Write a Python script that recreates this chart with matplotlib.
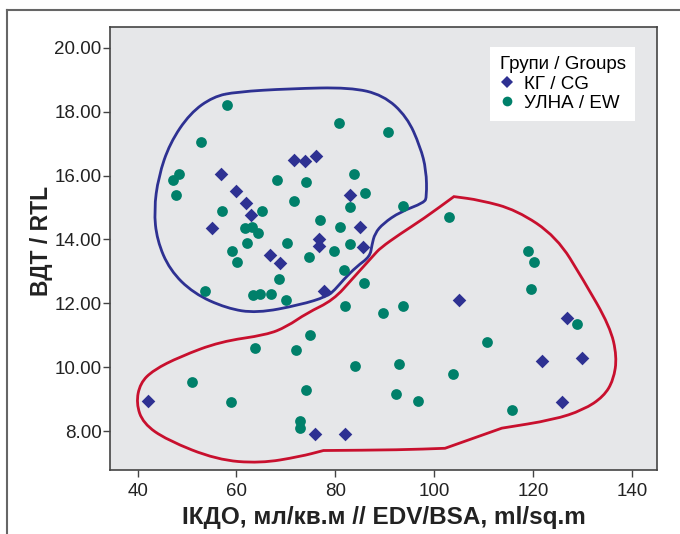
import matplotlib
matplotlib.use("Agg")
import matplotlib.pyplot as plt
from matplotlib.lines import Line2D
from matplotlib.path import Path
from matplotlib.patches import PathPatch

plt.rcParams["font.family"] = ["Liberation Sans", "DejaVu Sans"]

# КГ / CG
cg_x = [71.7, 73.9, 76.0, 56.9, 59.9, 62.0, 62.9, 55.0, 83.0, 85.0, 76.7, 76.7,
        85.6, 66.8, 68.8, 77.8, 105.0, 126.8, 121.8, 129.9, 125.8, 75.8, 82.0, 42.0]
cg_y = [16.5, 16.45, 16.6, 16.05, 15.5, 15.15, 14.75, 14.35, 15.4, 14.4, 14.0, 13.8,
        13.75, 13.5, 13.25, 12.4, 12.1, 11.55, 10.2, 10.3, 8.9, 7.9, 7.9, 8.95]

# УЛНА / EW
ew_x = [58.0, 80.8, 90.7, 52.9, 48.4, 47.1, 47.8, 68.1, 74.0, 83.8, 86.0, 71.7,
        57.1, 65.2, 93.7, 76.8, 82.9, 81.0, 61.7, 63.2, 64.3, 62.2, 70.3, 83.0,
        79.7, 59.0, 60.1, 74.7, 81.8, 68.6, 85.9, 53.6, 63.4, 64.8, 67.0, 70.0,
        82.0, 89.7, 93.6, 103.0, 119.0, 120.2, 119.6, 128.9, 110.7, 74.8, 83.9,
        92.8, 103.8, 74.0, 92.3, 96.8, 115.8, 63.8, 72.1, 50.9, 58.9, 72.8, 72.9]
ew_y = [18.2, 17.65, 17.35, 17.05, 16.05, 15.85, 15.4, 15.85, 15.8, 16.05, 15.45, 15.2,
        14.9, 14.9, 15.05, 14.6, 15.0, 14.4, 14.35, 14.4, 14.2, 13.9, 13.9, 13.85,
        13.65, 13.65, 13.3, 13.45, 13.05, 12.75, 12.65, 12.4, 12.25, 12.3, 12.3, 12.1,
        11.9, 11.7, 11.9, 14.7, 13.65, 13.3, 12.45, 11.35, 10.8, 11.0, 10.05,
        10.1, 9.8, 9.3, 9.15, 8.95, 8.65, 10.6, 10.55, 9.55, 8.9, 8.3, 8.1]

# hand-drawn group outlines (control points, closed)
blue_x = [60.0, 70.8, 83.0, 89.7, 94.5, 97.2, 98.4, 98.5, 98.0, 93.1, 89.7, 88.0,
          87.4, 87.0, 84.3, 81.6, 79.9, 78.3, 72.9, 64.1, 58.0, 51.3, 46.5, 43.9,
          43.3, 44.2, 46.5, 50.6, 55.3]
blue_y = [18.62, 18.72, 18.76, 18.52, 17.84, 16.9, 16.17, 15.34, 15.15, 14.86, 14.5, 14.19,
          13.82, 13.46, 13.15, 12.73, 12.42, 12.21, 11.95, 11.69, 11.84, 12.31, 13.04, 13.98,
          14.92, 15.96, 17.01, 17.95, 18.47]

red_x = [104.0, 104.0, 109.3, 116.7, 124.8, 130.2, 135.6, 137.0, 136.3, 134.3, 130.2, 124.1,
         113.7, 113.7, 102.2, 102.2, 93.1, 77.6, 77.6, 72.9, 64.8, 56.0, 45.9, 41.1, 39.7,
         40.5, 43.2, 48.6, 56.7, 66.1, 70.2, 74.2, 79.6, 83.6, 87.8, 89.1, 93.1, 97.8]
red_y = [15.34, 15.34, 15.23, 14.92, 14.08, 12.73, 11.27, 10.33, 9.6, 9.08, 8.66, 8.35,
         8.09, 8.09, 7.46, 7.46, 7.41, 7.39, 7.39, 7.2, 6.99, 7.1, 7.72, 8.24, 8.87,
         9.5, 9.91, 10.33, 10.8, 11.01, 11.27, 11.69, 12.1, 12.79, 13.51, 13.73, 14.17, 14.64]

x_ticks = [40, 60, 80, 100, 120, 140]
y_ticks = [8, 10, 12, 14, 16, 18, 20]

blue = "#2e3192"
green = "#00806a"
red = "#c8102e"


def smooth_outline(xs, ys):
    """closed quadratic b-spline path through the midpoints of the control polygon"""
    pts = list(zip(xs, ys))
    n = len(pts)
    mid = [((pts[i][0] + pts[(i + 1) % n][0]) / 2, (pts[i][1] + pts[(i + 1) % n][1]) / 2)
           for i in range(n)]
    verts = [mid[-1]]
    codes = [Path.MOVETO]
    for i in range(n):
        verts += [pts[i], mid[i]]
        codes += [Path.CURVE3, Path.CURVE3]
    return Path(verts, codes)


fig = plt.figure(figsize=(6.8, 5.34), dpi=100)
fig.add_artist(Line2D([7 / 680, 7 / 680], [0, 1 - 10 / 534], color="#666666", lw=1.5))
fig.add_artist(Line2D([7 / 680, 1], [1 - 10 / 534, 1 - 10 / 534], color="#666666", lw=1.5))

ax = fig.add_axes([110 / 680, 1 - 470 / 534, 547 / 680, 443 / 534])
ax.set_facecolor("#e6e7e9")

ax.add_patch(PathPatch(smooth_outline(blue_x, blue_y), fill=False, edgecolor=blue, lw=2, zorder=2))
ax.add_patch(PathPatch(smooth_outline(red_x, red_y), fill=False, edgecolor=red, lw=2, zorder=2))

ax.scatter(cg_x, cg_y, marker="D", s=48, color=blue, linewidths=0, zorder=3)
ax.scatter(ew_x, ew_y, marker="o", s=60, color=green, linewidths=0, zorder=3)

ax.set_xlim(34.4, 145.1)
ax.set_ylim(6.78, 20.65)
ax.set_xticks(x_ticks)
ax.set_yticks(y_ticks)
ax.set_xticklabels([str(v) for v in x_ticks])
ax.set_yticklabels([f"{v:.2f}" for v in y_ticks])
ax.tick_params(labelsize=13.5, length=5, width=1, color="#444444", labelcolor="#222222", pad=1)
ax.tick_params(axis="x", pad=4)
for sp in ax.spines.values():
    sp.set_color("#444444")
    sp.set_linewidth(1.2)

ax.set_xlabel("ІКДО, мл/кв.м // EDV/BSA, ml/sq.m", fontsize=17.5, fontweight="bold",
              color="#222222", labelpad=5)
ax.set_ylabel("ВДТ / RTL", fontsize=16.5, fontweight="bold", color="#222222")
ax.yaxis.set_label_coords(-0.105, 0.517)

handles = [
    Line2D([], [], marker="D", ls="", color=blue, markersize=6, markeredgewidth=0),
    Line2D([], [], marker="o", ls="", color=green, markersize=7, markeredgewidth=0),
]
leg = ax.legend(handles, ["КГ / CG", "УЛНА / EW"], title="Групи / Groups",
                loc="upper left", bbox_to_anchor=(0.695, 0.955), fontsize=13.5,
                title_fontsize=13.5, frameon=True, fancybox=False, handlelength=0.8,
                handletextpad=0.5, labelspacing=0.12, borderpad=0.5, borderaxespad=0)
leg.get_frame().set_facecolor("white")
leg.get_frame().set_edgecolor("none")
leg.get_frame().set_alpha(1)
leg._legend_box.align = "left"

fig.savefig("out.png", dpi=100)
